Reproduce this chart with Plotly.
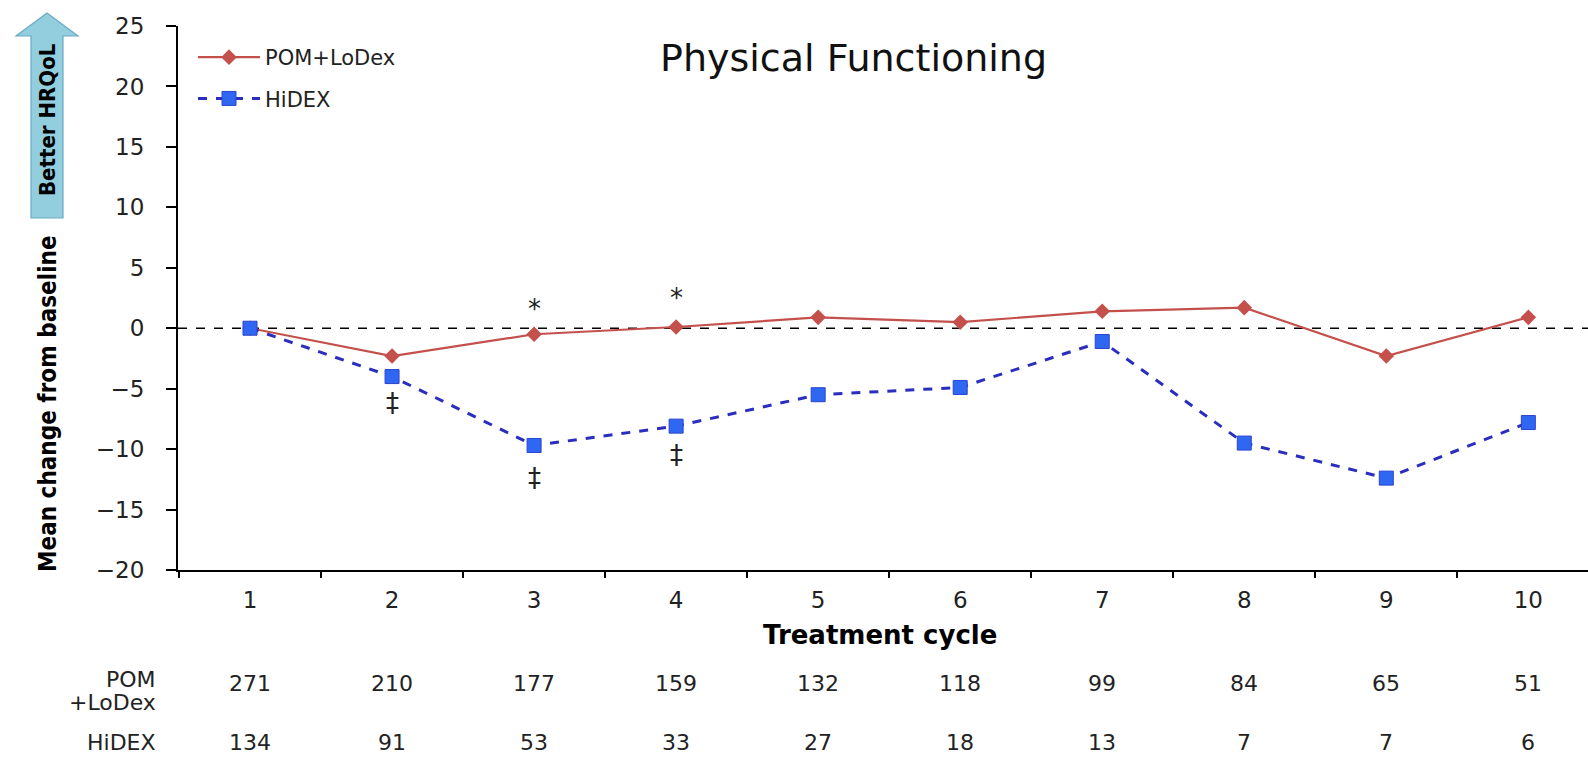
import plotly.graph_objects as go

cycles = ["1", "2", "3", "4", "5", "6", "7", "8", "9", "10"]
pom_lodex = [0.0, -2.3, -0.5, 0.1, 0.9, 0.5, 1.4, 1.7, -2.3, 0.9]
hidex = [0.0, -4.0, -9.7, -8.1, -5.5, -4.9, -1.1, -9.5, -12.4, -7.8]
n_pom = [271, 210, 177, 159, 132, 118, 99, 84, 65, 51]
n_hidex = [134, 91, 53, 33, 27, 18, 13, 7, 7, 6]
star_marks = [("3", 1.6), ("4", 2.5)]
dagger_marks = [("2", -6.2), ("3", -12.4), ("4", -10.5)]

W, H = 1588, 757
L, R, T, B = 178, 0, 26, 187
PW, PH = W - L - R, H - T - B


def px(x):
    return (x - L) / PW


def py(y):
    return (H - B - y) / PH


FONT = "DejaVu Sans"
NARROW = "DejaVu Sans Condensed, Liberation Sans Narrow, sans-serif"
idx = {c: i for i, c in enumerate(cycles)}

fig = go.Figure()
fig.add_trace(go.Scatter(
    x=cycles, y=pom_lodex, name="POM+LoDex", mode="lines+markers",
    line=dict(color="#C4504C", width=2.2),
    marker=dict(symbol="diamond", size=12, color="#C4504C"),
    legendgroup="a",
))
fig.add_trace(go.Scatter(
    x=cycles, y=hidex, name="HiDEX", mode="lines+markers",
    line=dict(color="#2A2DBE", width=3, dash="dash"),
    marker=dict(symbol="square", size=14, color="#2F66F2",
                line=dict(color="#2A45D0", width=1)),
    legendgroup="b",
))

# zero reference line
fig.add_shape(type="line", xref="paper", yref="y", x0=0, x1=1, y0=0, y1=0,
              line=dict(color="black", width=1.6, dash="dash"), layer="below")

# Better HRQoL arrow
arrow = [(31, 218), (31, 36), (16, 36), (47, 13), (78, 36), (63, 36), (63, 218)]
path = "M " + " L ".join(f"{px(a):.5f},{py(b):.5f}" for a, b in arrow) + " Z"
fig.add_shape(type="path", xref="paper", yref="paper", path=path,
              fillcolor="#93CEDF", line=dict(color="#6AAAC4", width=1.2))


def A(text, x, y, xref="paper", yref="paper", size=22, family=FONT, bold=False,
      xanchor="center", yanchor="middle", angle=0, color="#222", align="center"):
    return dict(text=text, x=x, y=y, xref=xref, yref=yref, showarrow=False,
                xanchor=xanchor, yanchor=yanchor, textangle=angle, align=align,
                font=dict(family=family, size=size, color=color,
                          weight="bold" if bold else "normal"))


ann = [
    A("Better HRQoL", px(47), py(120), size=22, family=NARROW, bold=True,
      angle=-90, color="black"),
    A("Mean change from baseline", px(48), py(404), size=24, family=NARROW,
      bold=True, angle=-90, color="black"),
    A("Physical Functioning", px(853), py(58), size=38, color="#111"),
    A("Treatment cycle", px(880), py(635), size=26, bold=True, color="black"),
]
for cx, yv in star_marks:
    ann.append(A("*", idx[cx], yv, xref="x", yref="y", size=26))
for cx, yv in dagger_marks:
    ann.append(A("‡", idx[cx], yv, xref="x", yref="y", size=26))
# at-risk table
ann.append(A("POM", px(158), py(679), xanchor="right", size=22))
ann.append(A("+LoDex", px(158), py(702), xanchor="right", size=22))
ann.append(A("HiDEX", px(158), py(756.5), xanchor="right", yanchor="bottom", size=22))
for c, a, b in zip(cycles, n_pom, n_hidex):
    ann.append(A(str(a), idx[c], py(683), xref="x", size=22))
    ann.append(A(str(b), idx[c], py(756.5), xref="x", yanchor="bottom", size=22))

fig.update_layout(
    width=W, height=H,
    margin=dict(l=L, r=R, t=T, b=B, autoexpand=False),
    paper_bgcolor="white", plot_bgcolor="white",
    font=dict(family=FONT, color="#222"),
    annotations=ann,
    showlegend=True,
    legend=dict(x=px(193), y=py(37), xanchor="left", yanchor="top",
                font=dict(family=FONT, size=21, color="#222"),
                bgcolor="rgba(0,0,0,0)", traceorder="grouped", tracegroupgap=11,
                itemwidth=62),
    xaxis=dict(type="category", range=[-0.507, 9.42], showgrid=False, zeroline=False,
               showline=True, linecolor="black", linewidth=2,
               ticks="outside", tickson="boundaries", ticklen=6, tickwidth=2,
               tickcolor="black", ticklabelstandoff=8,
               tickfont=dict(family=FONT, size=23, color="#222")),
    yaxis=dict(range=[-20, 25], dtick=5, tick0=0, showgrid=False, zeroline=False,
               showline=True, linecolor="black", linewidth=2,
               ticks="outside", ticklen=10, tickwidth=2, tickcolor="black",
               ticklabelstandoff=17,
               tickfont=dict(family=FONT, size=23, color="#222")),
)

fig.write_html(
    "out.html",
    config={"displayModeBar": False},
    post_script="document.body.style.margin='0px';"
                "document.body.style.overflow='hidden';",
)
